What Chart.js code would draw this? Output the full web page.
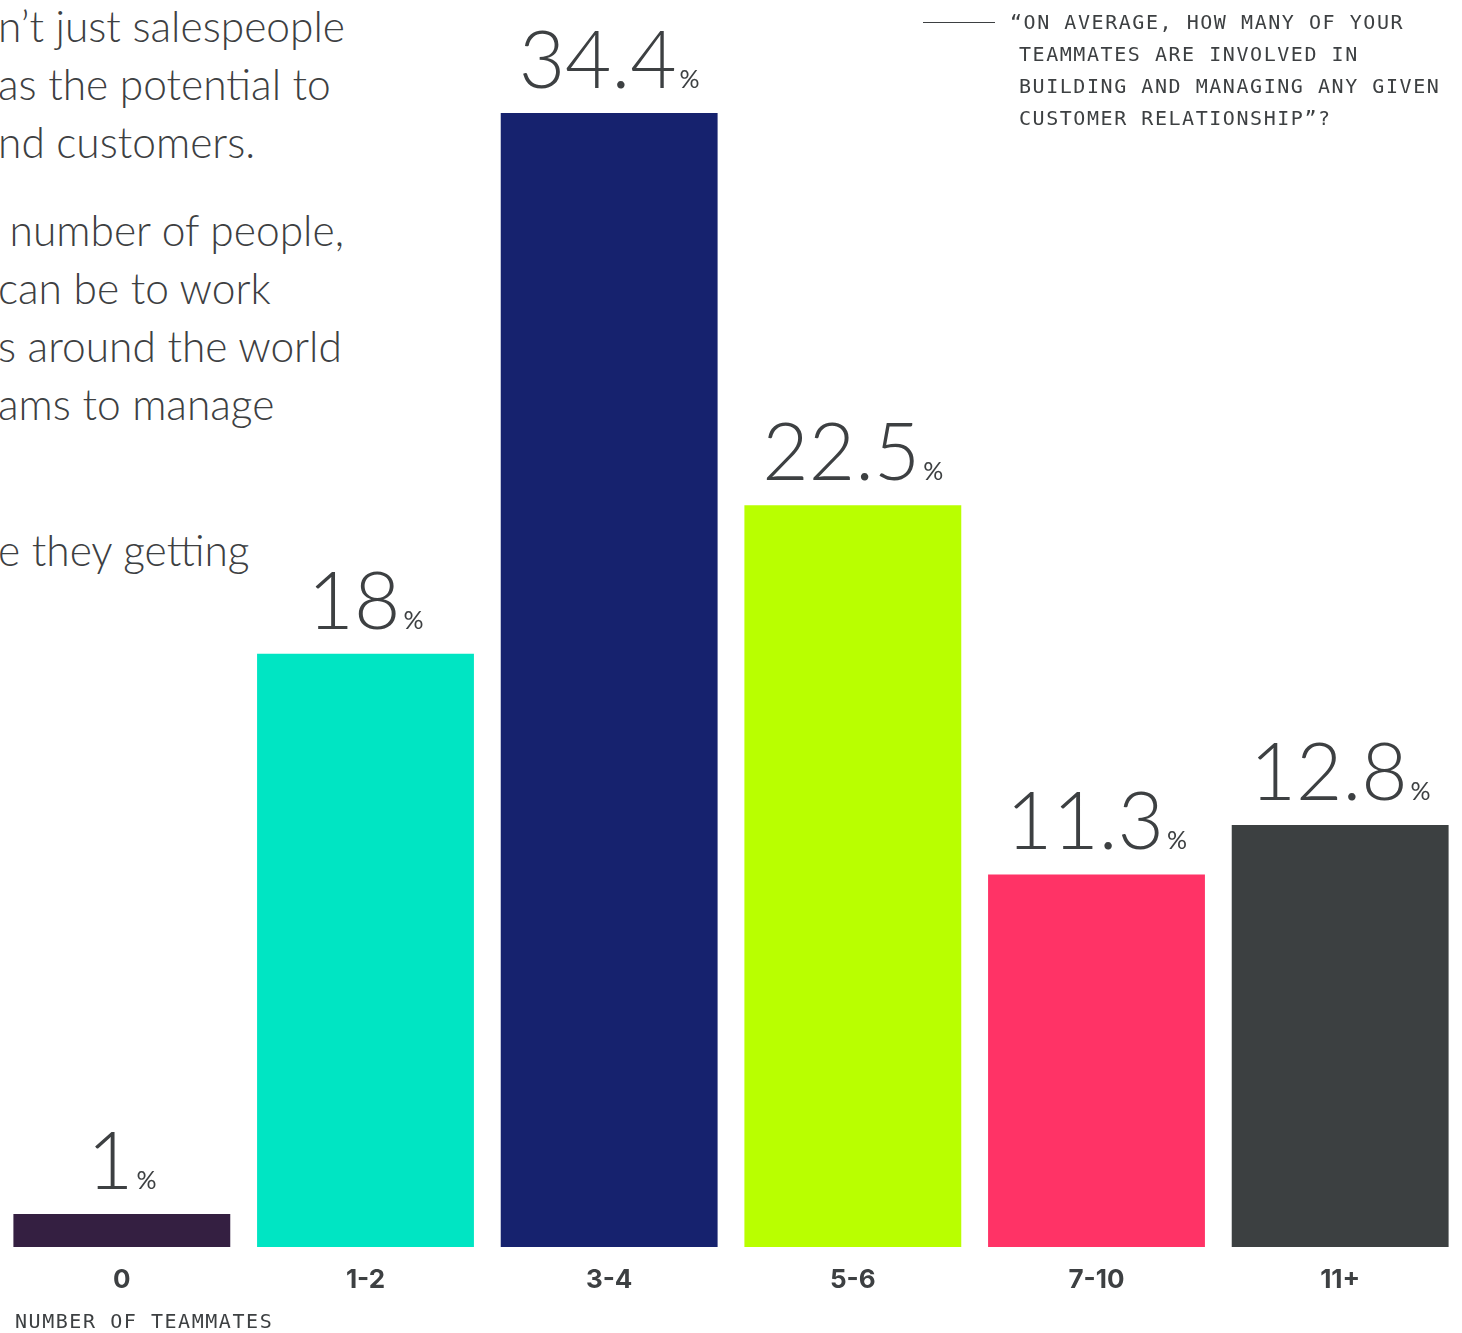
<!DOCTYPE html>
<html>
<head>
<meta charset="utf-8">
<script src="https://cdn.jsdelivr.net/npm/chart.js@4.4.1/dist/chart.umd.min.js"></script>
<style>
    body { margin: 0; background: #fff; width: 1462px; height: 1333px; overflow: hidden; position: relative; }
    #wrap { position: absolute; left: 0; top: 0; width: 1462px; height: 1333px; }
    .intro { position: absolute; left: -2px; top: -3px; font-family: Lato, sans-serif; font-weight: 300; font-size: 42.5px; color: #3d4042; line-height: 58px; white-space: nowrap; }
    .intro p { margin: 0; }
    .question { position: absolute; left: 1010px; top: 6px; font-family: "DejaVu Sans Mono", monospace; font-size: 20px; letter-spacing: 1.55px; line-height: 32px; color: #3d4042; white-space: nowrap; }
    .question span { display: block; padding-left: 9px; }
    .question span.first { padding-left: 0; }
    .rule { position: absolute; left: 923px; top: 22px; width: 72px; height: 1px; background: #3d4042; }
    .axis-name { position: absolute; left: 15px; top: 1309px; font-family: "DejaVu Sans Mono", monospace; font-size: 20px; letter-spacing: 1.55px; color: #3d4042; white-space: nowrap; }
</style>
</head>
<body>
<div class="intro">
    <p>n’t just salespeople</p>
    <p>as the potential to</p>
    <p>nd customers.</p>
    <p style="margin-top:30px">&nbsp;number of people,</p>
    <p>can be to work</p>
    <p>s around the world</p>
    <p>ams to manage</p>
    <p>&nbsp;</p>
    <p style="margin-top:30px">e they getting</p>
</div>
<div id="wrap"><canvas id="teammates-chart" width="1462" height="1333"></canvas></div>
<div class="rule"></div>
<div class="question"><span class="first">“ON AVERAGE, HOW MANY OF YOUR</span><span>TEAMMATES ARE INVOLVED IN</span><span>BUILDING AND MANAGING ANY GIVEN</span><span>CUSTOMER RELATIONSHIP”?</span></div>
<div class="axis-name">NUMBER OF TEAMMATES</div>
<script>
const teammateGroups = ['0', '1-2', '3-4', '5-6', '7-10', '11+'];
const shareOfRespondents = [1, 18, 34.4, 22.5, 11.3, 12.8];
const barColors = ['#341f41', '#00e5c3', '#16226e', '#b9ff00', '#ff3366', '#3c4041'];

// big number + small % sign above each bar
const valueLabels = {
    id: 'valueLabels',
    afterDatasetsDraw(chart) {
        const ctx = chart.ctx;
        const meta = chart.getDatasetMeta(0);
        ctx.save();
        ctx.fillStyle = '#3d4042';
        ctx.textBaseline = 'alphabetic';
        meta.data.forEach((bar, i) => {
            const num = String(shareOfRespondents[i]);
            ctx.font = '300 80px Lato, sans-serif';
            const numW = ctx.measureText(num).width;
            ctx.font = '400 25px Lato, sans-serif';
            const pctW = ctx.measureText('%').width;
            const gap = 3;
            const startX = bar.x - (numW + gap + pctW) / 2;
            const baseY = bar.y - 25;
            ctx.textAlign = 'left';
            ctx.font = '300 80px Lato, sans-serif';
            ctx.fillText(num, startX, baseY);
            ctx.font = '400 25px Lato, sans-serif';
            ctx.fillText('%', startX + numW + gap, baseY);
        });
        ctx.restore();
    }
};

const teammatesChart = new Chart(document.getElementById('teammates-chart').getContext('2d'), {
    type: 'bar',
    data: {
        labels: teammateGroups,
        datasets: [{
            data: shareOfRespondents,
            backgroundColor: barColors,
            barPercentage: 1,
            categoryPercentage: 0.89
        }]
    },
    options: {
        responsive: false,
        animation: false,
        layout: { padding: { top: 113, left: 0, right: 0, bottom: 0 } },
        plugins: {
            legend: { display: false },
            tooltip: { enabled: false }
        },
        scales: {
            x: {
                grid: { display: false, drawTicks: false },
                border: { display: false },
                ticks: {
                    color: '#3d4042',
                    font: { family: 'Inter, sans-serif', size: 26, weight: '700' },
                    padding: 18
                },
                afterFit: (scale) => { scale.height = 86; }
            },
            y: {
                display: false,
                min: 0,
                max: 34.4
            }
        }
    },
    plugins: [valueLabels]
});
</script>
</body>
</html>
